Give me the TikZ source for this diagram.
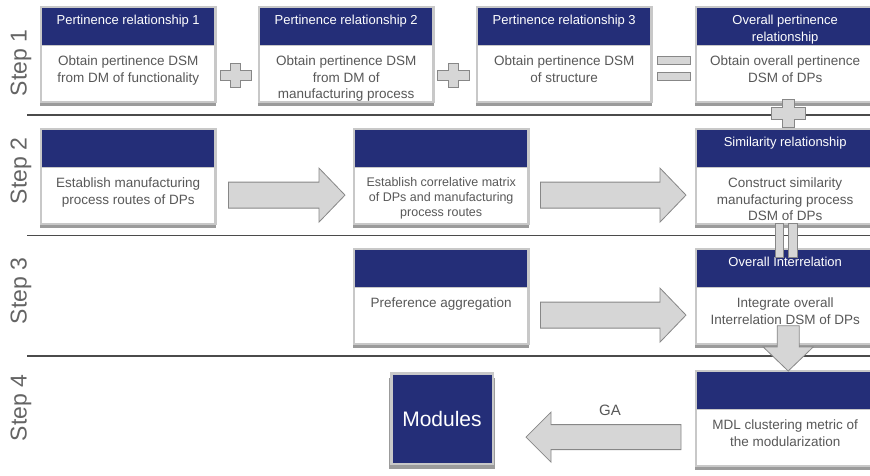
\documentclass[tikz,border=0pt]{standalone}
\usepackage{fontspec}
\setmainfont{Liberation Sans}
\usetikzlibrary{calc}

\definecolor{navy}{RGB}{36,46,120}
\definecolor{edgegray}{RGB}{200,200,200}
\definecolor{shadowgray}{RGB}{155,155,155}
\definecolor{txtgray}{RGB}{88,88,88}
\definecolor{steptxt}{RGB}{100,100,100}
\definecolor{arrowfill}{RGB}{214,214,214}
\definecolor{arrowline}{RGB}{135,135,135}
\definecolor{ruleline}{RGB}{75,75,75}

\tikzset{
  headbar/.style={fill=navy, inner sep=0pt, minimum height=37pt, anchor=north west},
  bodybox/.style={fill=white, inner sep=0pt, minimum height=55pt, anchor=north},
  headtext/.style={text=white, font=\fontsize{13}{17.5}\selectfont, align=center, inner sep=0pt, anchor=north},
  bodytext/.style={text=txtgray, font=\fontsize{13.5}{16.8}\selectfont, align=center, inner sep=0pt, anchor=north},
  smalltext/.style={font=\fontsize{12.5}{15}\selectfont},
  steplabel/.style={text=steptxt, font=\fontsize{23}{26}\selectfont, rotate=90, inner sep=0pt},
  blockarrow/.style={fill=arrowfill, draw=arrowline, line width=0.8pt, line join=miter},
  rule/.style={draw=ruleline, line width=1.6pt},
}

% process box: [body style]{name}{left}{top}{width}{header}{body}
\newcommand{\procbox}[7][]{%
  \fill[shadowgray] (#3-2,#4+6) rectangle (#3+#5+2,#4+98);
  \fill[edgegray] (#3-2.5,#4-2.5) rectangle (#3+#5+2.5,#4+94.5);
  \node[headbar, minimum width=#5pt] (#2h) at (#3,#4) {};
  \node[bodybox, minimum width=#5pt] (#2b) at (#2h.south) {};
  \node[headtext] (#2ht) at ([yshift=-6.5pt]#2h.north) {#6};
  \node[bodytext,#1] (#2t) at ([yshift=-10pt]#2b.north) {#7};
}

% block arrows between named coordinates
\newcommand{\rightblock}[2]{%
  \draw[blockarrow] let \p1=(#1), \p2=(#2) in
    (\x1,\y1-13pt) -- (\x2-26pt,\y1-13pt) -- (\x2-26pt,\y1-27pt) -- (\x2,\y1)
    -- (\x2-26pt,\y1+27pt) -- (\x2-26pt,\y1+13pt) -- (\x1,\y1+13pt) -- cycle;}
\newcommand{\leftblock}[2]{%
  \draw[blockarrow] let \p1=(#1), \p2=(#2) in
    (\x1,\y1-12.5pt) -- (\x2+25pt,\y1-12.5pt) -- (\x2+25pt,\y1-25pt) -- (\x2,\y1)
    -- (\x2+25pt,\y1+25pt) -- (\x2+25pt,\y1+12.5pt) -- (\x1,\y1+12.5pt) -- cycle;}
\newcommand{\downblock}[2]{%
  \draw[blockarrow] let \p1=(#1), \p2=(#2) in
    (\x1-11pt,\y1) -- (\x1-11pt,\y2+24pt) -- (\x1-25pt,\y2+24pt) -- (\x1,\y2)
    -- (\x1+25pt,\y2+24pt) -- (\x1+11pt,\y2+24pt) -- (\x1+11pt,\y1) -- cycle;}

% plus sign: {centre}{half length x}{half length y}{half thickness}
\newcommand{\plussign}[4]{%
  \begin{scope}[shift={(#1)}]
    \draw[blockarrow] (-#4,-#3) -- (#4,-#3) -- (#4,-#4) -- (#2,-#4) -- (#2,#4)
      -- (#4,#4) -- (#4,#3) -- (-#4,#3) -- (-#4,#4) -- (-#2,#4) -- (-#2,-#4)
      -- (-#4,-#4) -- cycle;
  \end{scope}}

\begin{document}
\begin{tikzpicture}[x=1pt,y=-1pt]
  \useasboundingbox (0,0) rectangle (870,475);
  \clip (0,0) rectangle (870,475);

  % step separators
  \draw[rule] (27,115) -- (870,115);
  \draw[rule] (27,235.5) -- (870,235.5);
  \draw[rule] (27,356) -- (870,356);

  % step labels
  \node[steplabel] (s1) at (21,63) {Step 1};
  \node[steplabel] (s2) at (21,171) {Step 2};
  \node[steplabel] (s3) at (21,291) {Step 3};
  \node[steplabel] (s4) at (21,408) {Step 4};

  % step 1
  \procbox{pa}{42}{8}{172}{Pertinence relationship 1}{Obtain pertinence DSM\\from DM of functionality}
  \procbox{pb}{260}{8}{172}{Pertinence relationship 2}{Obtain pertinence DSM\\from DM of\\manufacturing process}
  \procbox{pc}{478}{8}{172}{Pertinence relationship 3}{Obtain pertinence DSM\\of structure}
  \procbox{op}{697}{8}{176}{Overall pertinence\\relationship}{Obtain overall pertinence\\DSM of DPs}

  % step 2
  \procbox{mr}{42}{130}{172}{}{Establish manufacturing\\process routes of DPs}
  \procbox[smalltext]{cm}{355}{130}{172}{}{Establish correlative matrix\\of DPs and manufacturing\\process routes}
  \procbox{sr}{697}{130}{176}{Similarity relationship}{Construct similarity\\manufacturing process\\DSM of DPs}

  % step 3
  \procbox{pg}{355}{250}{172}{}{Preference aggregation}
  \procbox{oi}{697}{250}{176}{Overall Interrelation}{Integrate overall\\Interrelation DSM of DPs}

  % step 4
  \procbox{md}{697}{372}{176}{}{MDL clustering metric of\\the modularization}
  \fill[shadowgray] (389,378) rectangle (495,469);
  \node[fill=navy, draw=edgegray, line width=2.5pt, minimum width=101.5pt,
        minimum height=90.5pt, inner sep=0pt, text=white,
        font=\fontsize{21}{25}\selectfont] (mod) at (442,418.5) {Modules};

  % operators between the pertinence results
  \coordinate (plusA) at (235.5,75);
  \coordinate (plusB) at (453.5,75);
  \plussign{plusA}{15.5}{12}{5}
  \plussign{plusB}{16}{12}{5}
  \coordinate (eqA) at ($(pcb.east)!0.5!(opb.west)+(0,-4.5)$);
  \begin{scope}[shift={(eqA)}]
    \draw[blockarrow] (-16.5,-12) rectangle (16.5,-4);
    \draw[blockarrow] (-16.5,4) rectangle (16.5,12);
  \end{scope}
  \coordinate (plusC) at ([xshift=3pt,yshift=-13pt]opb.south);
  \plussign{plusC}{17}{14}{6}
  \coordinate (eqB) at ([xshift=1pt,yshift=-18pt]srb.south);
  \begin{scope}[shift={(eqB)}]
    \draw[blockarrow] (-11,-17) rectangle (-3,17);
    \draw[blockarrow] (2,-17) rectangle (11,17);
  \end{scope}

  % flow arrows
  \coordinate (a1s) at ([xshift=14pt]mrb.east);
  \coordinate (a1e) at ([xshift=-10pt]cmb.west);
  \rightblock{a1s}{a1e}
  \coordinate (a2s) at ([xshift=13pt]cmb.east);
  \coordinate (a2e) at ([xshift=-11pt]srb.west);
  \rightblock{a2s}{a2e}
  \coordinate (a3s) at ([xshift=13pt]pgb.east);
  \coordinate (a3e) at ([xshift=-11pt]oib.west);
  \rightblock{a3s}{a3e}
  \coordinate (a4s) at ([xshift=-16pt]mdb.west);
  \coordinate (a4e) at ([xshift=32pt]mod.east);
  \leftblock{a4s}{a4e}
  \node[text=txtgray, font=\fontsize{15}{18}\selectfont] (ga) at (610,410) {GA};
  \coordinate (d1s) at ([xshift=3pt,yshift=17pt]oib.south);
  \coordinate (d1e) at ([xshift=3pt,yshift=1pt]mdh.north);
  \downblock{d1s}{d1e}
\end{tikzpicture}
\end{document}
